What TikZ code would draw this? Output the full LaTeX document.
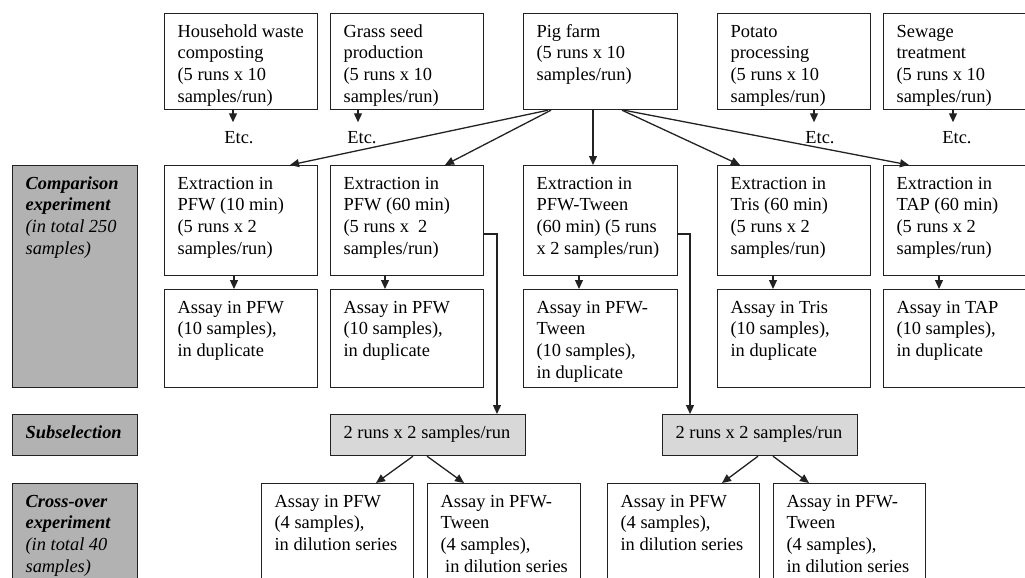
\documentclass[tikz,border=0pt]{standalone}
\usepackage{fontspec}
\setmainfont{Liberation Serif}
\usetikzlibrary{arrows.meta}
\definecolor{lblgray}{RGB}{178,178,178}
\definecolor{subgray}{RGB}{216,216,216}
\definecolor{edgec}{RGB}{34,34,34}
\newcommand\bx[3]{\parbox[t][\dimexpr#2pt-16.6pt\relax][t]{#1pt}{\leftskip=13pt\rightskip=0pt plus 1fil\parfillskip=0pt plus 1fil\strut#3}}
\newcommand\bi[1]{\textbf{\textit{#1}}}
\begin{document}
\begin{tikzpicture}[x=1pt,y=-1pt,
  basefont/.style={font=\fontsize{18.4pt}{21.7pt}\selectfont, text=black},
  box/.style={basefont, draw=edgec, line width=1.2pt, inner xsep=0pt, inner ysep=8.3pt, anchor=north west, fill=white},
  lbl/.style={box, fill=lblgray},
  subbox/.style={box, fill=subgray},
  etcnode/.style={basefont, inner xsep=0pt, inner ysep=8.5pt, anchor=base},
  arr/.style={draw=edgec, line width=1.3pt, -{Triangle[length=9pt,width=8pt]}}]
\useasboundingbox (0,0) rectangle (1025,578);
\clip (0,0) rectangle (1025,578);

% top row
\node[box] (h1) at (164,13) {\bx{153}{96}{Household waste\\composting\\(5 runs x 10\\samples/run)}};
\node[box] (h2) at (330,13) {\bx{153}{96}{Grass seed\\production\\(5 runs x 10\\samples/run)}};
\node[box] (h3) at (523,13) {\bx{154}{96}{Pig farm\\(5 runs x 10\\samples/run)}};
\node[box] (h4) at (717,13) {\bx{153}{96}{Potato\\processing\\(5 runs x 10\\samples/run)}};
\node[box] (h5) at (883,13) {\bx{153}{96}{Sewage\\treatment\\(5 runs x 10\\samples/run)}};

% Etc.
\node[etcnode] (e1) at (239,143) {Etc.};
\node[etcnode] (e2) at (362,143) {Etc.};
\node[etcnode] (e4) at (820,143) {Etc.};
\node[etcnode] (e5) at (957,143) {Etc.};

% extraction row
\node[box] (x1) at (164,165) {\bx{153}{110}{Extraction in\\PFW (10 min)\\(5 runs x 2\\samples/run)}};
\node[box] (x2) at (330,165) {\bx{153}{110}{Extraction in\\PFW (60 min)\\(5 runs x\ \ 2\\samples/run)}};
\node[box] (x3) at (523,165) {\bx{154}{110}{Extraction in\\PFW-Tween\\(60 min) (5 runs\\x 2 samples/run)}};
\node[box] (x4) at (717,165) {\bx{153}{110}{Extraction in\\Tris (60 min)\\(5 runs x 2\\samples/run)}};
\node[box] (x5) at (883,165) {\bx{153}{110}{Extraction in\\TAP (60 min)\\(5 runs x 2\\samples/run)}};

% assay row
\node[box] (a1) at (164,289) {\bx{153}{98}{Assay in PFW\\(10 samples),\\in duplicate}};
\node[box] (a2) at (330,289) {\bx{153}{98}{Assay in PFW\\(10 samples),\\in duplicate}};
\node[box] (a3) at (523,289) {\bx{154}{98}{Assay in PFW-\\Tween\\(10 samples),\\in duplicate}};
\node[box] (a4) at (717,289) {\bx{153}{98}{Assay in Tris\\(10 samples),\\in duplicate}};
\node[box] (a5) at (883,289) {\bx{153}{98}{Assay in TAP\\(10 samples),\\in duplicate}};

% left labels
\node[lbl] (c1) at (12,165) {\bx{125}{222}{\bi{Comparison}\\\bi{experiment}\\\textit{(in total 250}\\\textit{samples)}}};
\node[lbl] (c2) at (12,414) {\bx{125}{41}{\bi{Subselection}}};
\node[lbl] (c3) at (12,483) {\bx{125}{130}{\bi{Cross-over}\\\bi{experiment}\\\textit{(in total 40}\\\textit{samples)}}};

% subselection
\node[subbox] (s1) at (330,414) {\bx{195}{41}{2 runs x 2 samples/run}};
\node[subbox] (s2) at (662,414) {\bx{195}{41}{2 runs x 2 samples/run}};

% cross-over row
\node[box] (k1) at (261,483) {\bx{152}{130}{Assay in PFW\\(4 samples),\\in dilution series}};
\node[box] (k2) at (427,483) {\bx{153}{130}{Assay in PFW-\\Tween\\(4 samples),\\\hspace*{4.6pt}in dilution series}};
\node[box] (k3) at (607,483) {\bx{152}{130}{Assay in PFW\\(4 samples),\\in dilution series}};
\node[box] (k4) at (773,483) {\bx{152}{130}{Assay in PFW-\\Tween\\(4 samples),\\in dilution series}};

% top to Etc.
\draw[arr] ([xshift=69pt]h1.south west) -- ([xshift=69pt]h1.south west |- e1.north);
\draw[arr] ([xshift=28pt]h2.south west) -- ([xshift=28pt]h2.south west |- e2.north);
\draw[arr] ([xshift=97pt]h4.south west) -- ([xshift=97pt]h4.south west |- e4.north);
\draw[arr] ([xshift=70pt]h5.south west) -- ([xshift=70pt]h5.south west |- e5.north);

% pig farm to extractions
\draw[arr] ([xshift=25pt]h3.south west) -- ([xshift=126pt]x1.north west);
\draw[arr] ([xshift=28pt]h3.south west) -- ([xshift=115pt]x2.north west);
\draw[arr] ([xshift=70pt]h3.south west) -- ([xshift=70pt]x3.north west);
\draw[arr] ([xshift=99pt]h3.south west) -- ([xshift=23pt]x4.north west);
\draw[arr] ([xshift=101pt]h3.south west) -- ([xshift=26pt]x5.north west);

% extraction to assay
\draw[arr] ([xshift=70pt]x1.south west) -- ([xshift=70pt]a1.north west);
\draw[arr] ([xshift=55pt]x2.south west) -- ([xshift=55pt]a2.north west);
\draw[arr] ([xshift=56pt]x3.south west) -- ([xshift=56pt]a3.north west);
\draw[arr] ([xshift=56pt]x4.south west) -- ([xshift=56pt]a4.north west);
\draw[arr] ([xshift=56pt]x5.south west) -- ([xshift=56pt]a5.north west);

% elbows to subselection
\draw[arr] ([yshift=-69pt]x2.north east) -| ([xshift=167pt]s1.north west);
\draw[arr] ([yshift=-69pt]x3.north east) -| ([xshift=28pt]s2.north west);

% subselection to cross-over
\draw[arr] ([xshift=83pt]s1.south west) -- ([xshift=115pt]k1.north west);
\draw[arr] ([xshift=97pt]s1.south west) -- ([xshift=37pt]k2.north west);
\draw[arr] ([xshift=96pt]s2.south west) -- ([xshift=115pt]k3.north west);
\draw[arr] ([xshift=111pt]s2.south west) -- ([xshift=36pt]k4.north west);
\end{tikzpicture}
\end{document}
